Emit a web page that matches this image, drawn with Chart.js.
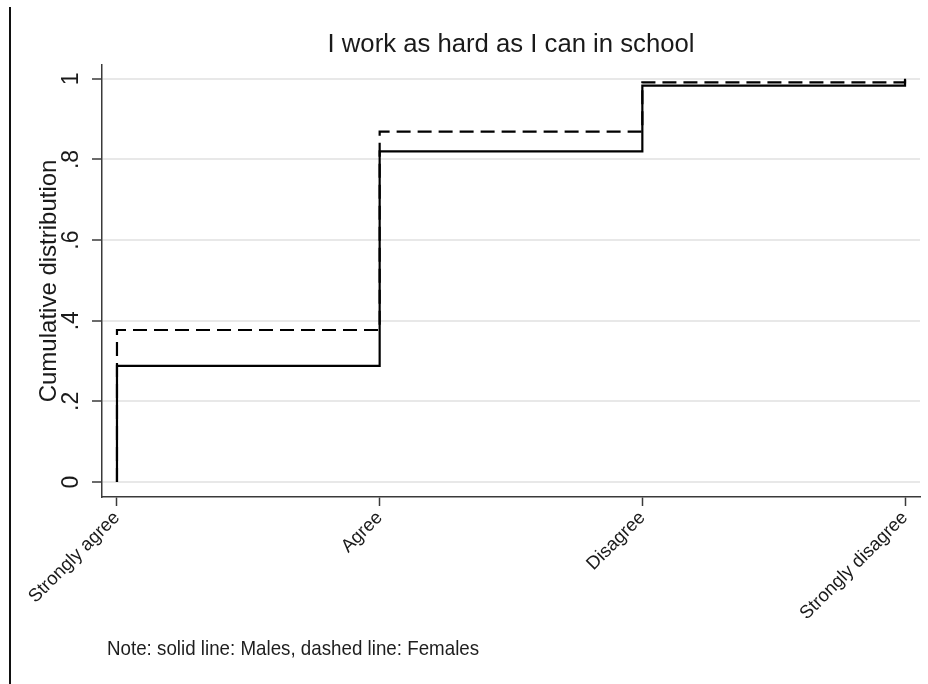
<!DOCTYPE html>
<html>
<head>
<meta charset="utf-8">
<script src="https://cdn.jsdelivr.net/npm/chart.js@4/dist/chart.umd.min.js"></script>
<style>
  html, body { margin: 0; padding: 0; background: #fff; }
  #wrap { position: relative; width: 928px; height: 684px; overflow: hidden; }
  #cdf { position: absolute; left: 0; top: 0; }
  #edge { position: absolute; left: 9px; top: 7px; bottom: 0; border-left: 2px solid #111; }
  #note {
    position: absolute; left: 107px; top: 637px;
    font: 21px/21px "Liberation Sans", Arial, sans-serif;
    color: #1e1e1e; white-space: nowrap;
    transform: scaleX(0.893); transform-origin: 0 0;
  }
</style>
</head>
<body>
<div id="wrap">
  <canvas id="cdf" width="928" height="684"></canvas>
  <div id="edge"></div>
  <div id="note">Note: solid line: Males, dashed line: Females</div>
</div>
<script>
// ---------- data ----------
const categories = ['Strongly agree', 'Agree', 'Disagree', 'Strongly disagree'];
const malesCum   = [0.288, 0.820, 0.983, 1.000];
const femalesCum = [0.377, 0.869, 0.991, 1.000];
const yTicks      = [0, 0.2, 0.4, 0.6, 0.8, 1];
const yTickLabels = ['0', '.2', '.4', '.6', '.8', '1'];

// cumulative curve starts from 0 at the first category
const toSteps = vals => [{ x: 0, y: 0 }].concat(vals.map((v, i) => ({ x: i, y: v })));

const FONT = '"Liberation Sans", Arial, sans-serif';
const INK = '#1a1a1a';
const AXIS = '#3a3a3a';

new Chart(document.getElementById('cdf'), {
  type: 'line',
  data: {
    datasets: [
      {
        label: 'Males',
        data: toSteps(malesCum),
        stepped: 'before',
        borderColor: '#000',
        borderWidth: 2.2,
        pointRadius: 0,
        fill: false
      },
      {
        label: 'Females',
        data: toSteps(femalesCum),
        stepped: 'before',
        borderColor: '#000',
        borderWidth: 2.2,
        borderDash: [14, 7],
        pointRadius: 0,
        fill: false
      }
    ]
  },
  options: {
    responsive: false,
    animation: false,
    layout: { padding: { left: 0, right: 8, top: 0, bottom: 0 } },
    plugins: {
      legend: { display: false },
      tooltip: { enabled: false },
      title: {
        display: true,
        text: 'I work as hard as I can in school',
        fullSize: false,
        color: INK,
        font: { family: FONT, size: 25.7, weight: 'normal' },
        padding: { top: 29, bottom: 5 }
      }
    },
    scales: {
      x: {
        type: 'linear',
        min: -0.057,
        max: 3.057,
        afterBuildTicks: s => { s.ticks = categories.map((c, i) => ({ value: i })); },
        afterFit: s => { s.height = 187; },
        border: { color: AXIS, width: 1.5 },
        grid: { drawOnChartArea: false, drawTicks: true, tickLength: 9, tickColor: AXIS, tickWidth: 1.5 },
        ticks: {
          autoSkip: false,
          minRotation: 45,
          maxRotation: 45,
          padding: 1,
          color: INK,
          font: { family: FONT, size: 18.5 },
          callback: v => categories[v]
        }
      },
      y: {
        min: -0.0372,
        max: 1.0347,
        afterBuildTicks: s => { s.ticks = yTicks.map(v => ({ value: v })); },
        afterFit: s => { s.width = 102; },
        border: { color: AXIS, width: 1.5 },
        grid: { color: '#e8e8e8', lineWidth: 2, tickColor: AXIS, tickWidth: 1.5, tickLength: 10 },
        ticks: {
          minRotation: 90,
          maxRotation: 90,
          crossAlign: 'center',
          padding: 11,
          color: INK,
          font: { family: FONT, size: 23 },
          callback: (v, i) => yTickLabels[i]
        },
        title: {
          display: true,
          text: 'Cumulative distribution',
          color: INK,
          font: { family: FONT, size: 24, weight: 'normal' },
          padding: { top: 35, bottom: 0 }
        }
      }
    }
  }
});
</script>
</body>
</html>
